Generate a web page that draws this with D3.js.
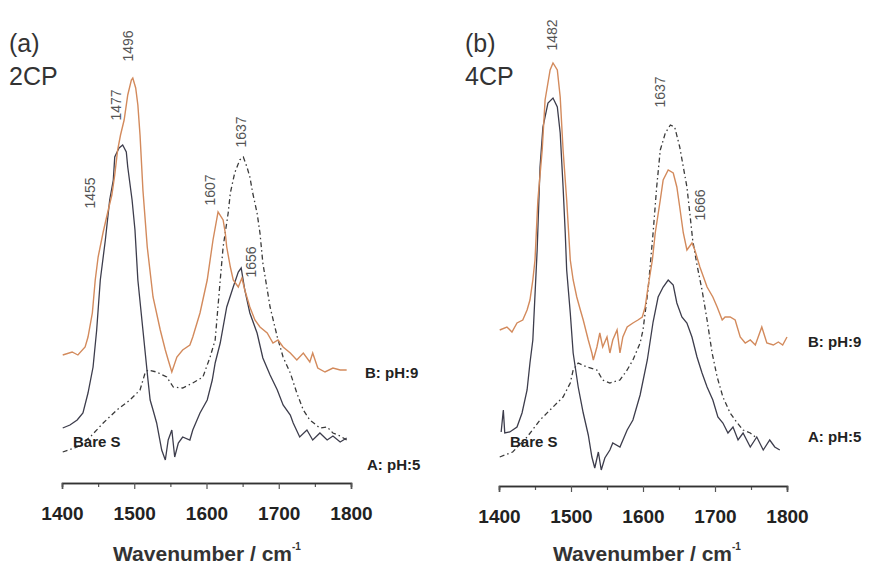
<!DOCTYPE html>
<html><head><meta charset="utf-8">
<script src="https://cdn.jsdelivr.net/npm/d3@7"></script>
<style>body{margin:0;background:#fff}svg{display:block}</style>
</head><body><svg id="c" width="869" height="566"></svg>
<script>
// ---- DATA (wavenumber cm^-1, intensity a.u.) ----
const xTicksMajor = [1400, 1500, 1600, 1700, 1800];
const xTicksMinor = [1450, 1550, 1650, 1750];
const panelLetters = ["(a)", "(b)"];
const panelNames = ["2CP", "4CP"];
const seriesNames = ["B: pH:9", "A: pH:5", "Bare S"];

// Panel (a) 2CP
const a_pH9 = [[1401,128],[1414,131],[1422,128],[1432,136],[1436,146],[1442,170],[1446,203],[1450,226],[1457,251],[1464,273],[1469,288],[1473,308],[1477,333],[1481,348],[1486,363],[1491,388],[1496,403],[1498,405],[1502,395],[1505,378],[1508,348],[1512,293],[1518,236],[1526,186],[1536,153],[1543,133],[1547,123],[1552,111],[1559,126],[1567,133],[1577,138],[1581,146],[1591,170],[1601,203],[1609,243],[1616,271],[1623,263],[1626,250],[1628,236],[1633,216],[1637,203],[1644,196],[1649,205],[1653,193],[1660,176],[1667,163],[1674,156],[1684,150],[1692,140],[1699,143],[1706,136],[1716,130],[1725,123],[1734,130],[1743,121],[1747,130],[1754,115],[1764,111],[1775,115],[1785,113],[1794,113]];
const a_pH5 = [[1401,55],[1411,58],[1421,63],[1429,70],[1436,90],[1443,116],[1448,153],[1453,203],[1460,243],[1466,283],[1471,303],[1473,326],[1479,335],[1484,338],[1489,331],[1491,316],[1497,283],[1501,253],[1505,203],[1512,153],[1519,103],[1522,83],[1526,73],[1531,60],[1538,33],[1543,23],[1547,43],[1552,53],[1556,26],[1561,40],[1567,46],[1577,43],[1581,53],[1591,70],[1601,83],[1608,103],[1612,120],[1619,140],[1628,176],[1637,196],[1644,211],[1648,215],[1653,193],[1660,170],[1670,150],[1678,125],[1688,108],[1698,93],[1706,78],[1716,68],[1720,60],[1729,46],[1739,53],[1747,43],[1757,50],[1767,43],[1775,47],[1785,41],[1794,45]];
const a_bare = [[1401,31],[1421,36],[1439,46],[1457,60],[1476,73],[1494,83],[1508,93],[1515,110],[1519,113],[1531,111],[1545,106],[1554,96],[1567,95],[1581,100],[1595,106],[1605,126],[1612,143],[1619,203],[1623,236],[1630,270],[1633,290],[1639,310],[1646,323],[1651,326],[1656,316],[1660,306],[1664,290],[1670,270],[1674,250],[1678,220],[1688,176],[1698,146],[1706,126],[1716,110],[1725,90],[1734,73],[1743,63],[1757,55],[1767,56],[1775,50],[1785,47],[1794,43]];
const a_peaks = [[1455,"1455"],[1477,"1477"],[1496,"1496"],[1607,"1607"],[1637,"1637"],[1656,"1656"]];

// Panel (b) 4CP
const b_pH9 = [[1401,153],[1411,156],[1418,151],[1425,160],[1433,163],[1439,173],[1443,183],[1447,203],[1450,223],[1454,283],[1460,333],[1464,383],[1471,413],[1475,420],[1481,413],[1485,386],[1489,333],[1494,283],[1499,223],[1503,203],[1508,186],[1513,173],[1517,163],[1524,143],[1529,130],[1531,123],[1536,136],[1540,150],[1544,136],[1550,146],[1554,130],[1558,143],[1564,153],[1568,130],[1572,146],[1578,156],[1586,160],[1593,163],[1599,166],[1603,176],[1607,196],[1613,223],[1617,250],[1624,283],[1628,303],[1635,313],[1642,310],[1647,296],[1651,276],[1656,250],[1661,233],[1668,240],[1672,233],[1679,216],[1689,196],[1697,186],[1703,176],[1710,163],[1714,166],[1721,166],[1728,163],[1735,146],[1742,140],[1749,143],[1756,138],[1765,156],[1772,140],[1781,138],[1788,141],[1794,138],[1800,146]];
const b_pH5 = [[1403,51],[1406,73],[1408,50],[1415,51],[1425,56],[1432,70],[1439,93],[1443,120],[1447,143],[1453,233],[1457,316],[1461,356],[1468,380],[1475,385],[1481,376],[1485,350],[1489,296],[1492,250],[1494,213],[1499,170],[1503,130],[1510,96],[1517,70],[1524,48],[1529,26],[1533,15],[1538,31],[1542,13],[1547,25],[1554,33],[1558,40],[1568,36],[1578,53],[1586,63],[1596,88],[1606,123],[1614,161],[1621,186],[1628,196],[1635,203],[1642,198],[1647,180],[1654,166],[1661,160],[1668,146],[1675,126],[1682,110],[1689,96],[1697,83],[1704,66],[1711,60],[1718,50],[1725,56],[1732,43],[1739,50],[1749,36],[1758,46],[1767,33],[1776,43],[1783,36],[1790,33]];
const b_bare = [[1401,26],[1419,31],[1439,46],[1457,63],[1475,76],[1489,86],[1499,100],[1503,113],[1510,120],[1522,116],[1536,113],[1544,103],[1554,100],[1568,103],[1578,113],[1586,123],[1596,140],[1600,153],[1607,193],[1614,250],[1619,296],[1624,333],[1631,350],[1638,358],[1644,356],[1651,336],[1656,316],[1661,296],[1665,270],[1669,243],[1675,218],[1682,193],[1689,163],[1696,130],[1703,106],[1711,86],[1721,70],[1731,60],[1739,53],[1749,50],[1756,46]];
const b_peaks = [[1482,"1482"],[1637,"1637"],[1666,"1666"]];

// ---- DRAWING ----
const svg = d3.select("#c");
const y = d3.scaleLinear().domain([0, 450]).range([483, 33]);
const colors = {pH9: "#d38a5c", pH5: "#3d3d4c", bare: "#3a3a3a"};
const FONT = "Liberation Sans, Arial, sans-serif";

const panels = [
  {x0: 62, x1: 351, axisY: 483, letter: panelLetters[0], name: panelNames[0], lx: 9,
   pH9: a_pH9, pH5: a_pH5, bare: a_bare, peaks: a_peaks,
   peakPos: [[90,193],[116,105],[128,46],[210,190],[241,132],[251,262]],
   lab: [[365,378],[367,470],[73,447]], titleX: 207},
  {x0: 499, x1: 787, axisY: 486, letter: panelLetters[1], name: panelNames[1], lx: 465,
   pH9: b_pH9, pH5: b_pH5, bare: b_bare, peaks: b_peaks,
   peakPos: [[552,35],[660,92],[700,205]],
   lab: [[808,347],[808,442],[510,447]], titleX: 647}
];

panels.forEach(p => {
  const x = d3.scaleLinear().domain([1400, 1800]).range([p.x0, p.x1]);
  const g = svg.append("g");
  const line = d3.line().x(d => x(d[0])).y(d => y(d[1])).curve(d3.curveLinear);

  g.append("path").datum(p.bare).attr("d", line).attr("fill", "none")
    .attr("stroke", colors.bare).attr("stroke-width", 1.3).attr("stroke-dasharray", "5,3,1.5,3");
  g.append("path").datum(p.pH5).attr("d", line).attr("fill", "none")
    .attr("stroke", colors.pH5).attr("stroke-width", 1.3);
  g.append("path").datum(p.pH9).attr("d", line).attr("fill", "none")
    .attr("stroke", colors.pH9).attr("stroke-width", 1.4);

  // axis
  const minor = g.append("g").attr("transform", `translate(0,${p.axisY})`)
    .call(d3.axisBottom(x).tickValues(xTicksMinor).tickSize(4).tickFormat(""));
  const major = g.append("g").attr("transform", `translate(0,${p.axisY})`)
    .call(d3.axisBottom(x).tickValues(xTicksMajor).tickSize(6).tickFormat(d3.format("d")));
  [minor, major].forEach(a => {
    a.select(".domain").attr("stroke", "#333").attr("stroke-width", 1.5);
    a.selectAll(".tick line").attr("stroke", "#555").attr("stroke-width", 1.2);
  });
  major.selectAll(".tick text")
    .attr("font-family", FONT)
    .attr("font-weight", "bold").attr("font-size", 19).attr("fill", "#222")
    .attr("dy", null).attr("y", 520 - p.axisY + (p.axisY - 483));

  // axis title
  const t = g.append("text").attr("x", p.titleX).attr("y", 561).attr("text-anchor", "middle")
    .attr("font-family", FONT).attr("font-weight", "bold")
    .attr("font-size", 21).attr("fill", "#333");
  t.append("tspan").text("Wavenumber / cm");
  t.append("tspan").text("-1").attr("font-size", 10).attr("dy", -11);

  // panel labels
  g.append("text").attr("x", p.lx).attr("y", 52).text(p.letter)
    .attr("font-family", FONT).attr("font-size", 25).attr("fill", "#333");
  g.append("text").attr("x", p.lx).attr("y", 85).text(p.name)
    .attr("font-family", FONT).attr("font-size", 25).attr("fill", "#333");

  // peak labels (rotated, reading bottom to top)
  p.peaks.forEach((pk, i) => {
    const [cx, cy] = p.peakPos[i];
    g.append("text").attr("transform", `translate(${cx + 5},${cy}) rotate(-90)`)
      .attr("text-anchor", "middle").text(pk[1])
      .attr("font-family", FONT).attr("font-size", 14).attr("fill", "#555");
  });

  // series labels
  seriesNames.forEach((s, i) => {
    g.append("text").attr("x", p.lab[i][0]).attr("y", p.lab[i][1]).text(s)
      .attr("font-family", FONT).attr("font-weight", "bold")
      .attr("font-size", 15).attr("fill", "#222");
  });
});
</script></body></html>
